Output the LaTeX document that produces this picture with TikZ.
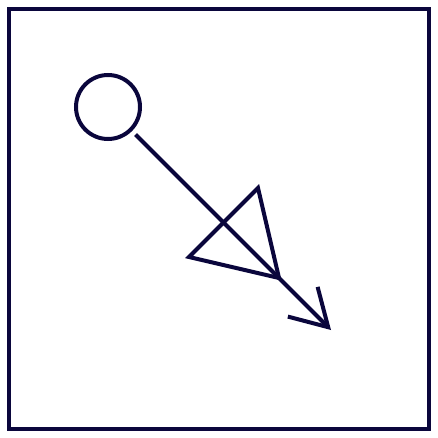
\documentclass[tikz,border=0pt]{standalone}
\usepackage{tikz}
\usetikzlibrary{arrows.meta}
\definecolor{ink}{RGB}{10,6,60}
\tikzset{outline/.style={draw=ink, line width=4pt}}
\begin{document}
\begin{tikzpicture}[x=1pt,y=-1pt]
    \useasboundingbox (0,0) rectangle (438,438);
    \draw[outline] (9,9) rectangle (429,429);

    \node(hub)[outline, circle, minimum size=64pt, inner sep=0pt] at (108,107) {};
    \coordinate (tip) at (331,330);
    \draw [outline, shorten <=5pt, -{Straight Barb[length=36pt,width=42pt]}] (hub) -- (tip);

    \draw [outline, line join=miter] (258,188) -- (189,257) -- (279,278) -- cycle;
\end{tikzpicture}
\end{document}
